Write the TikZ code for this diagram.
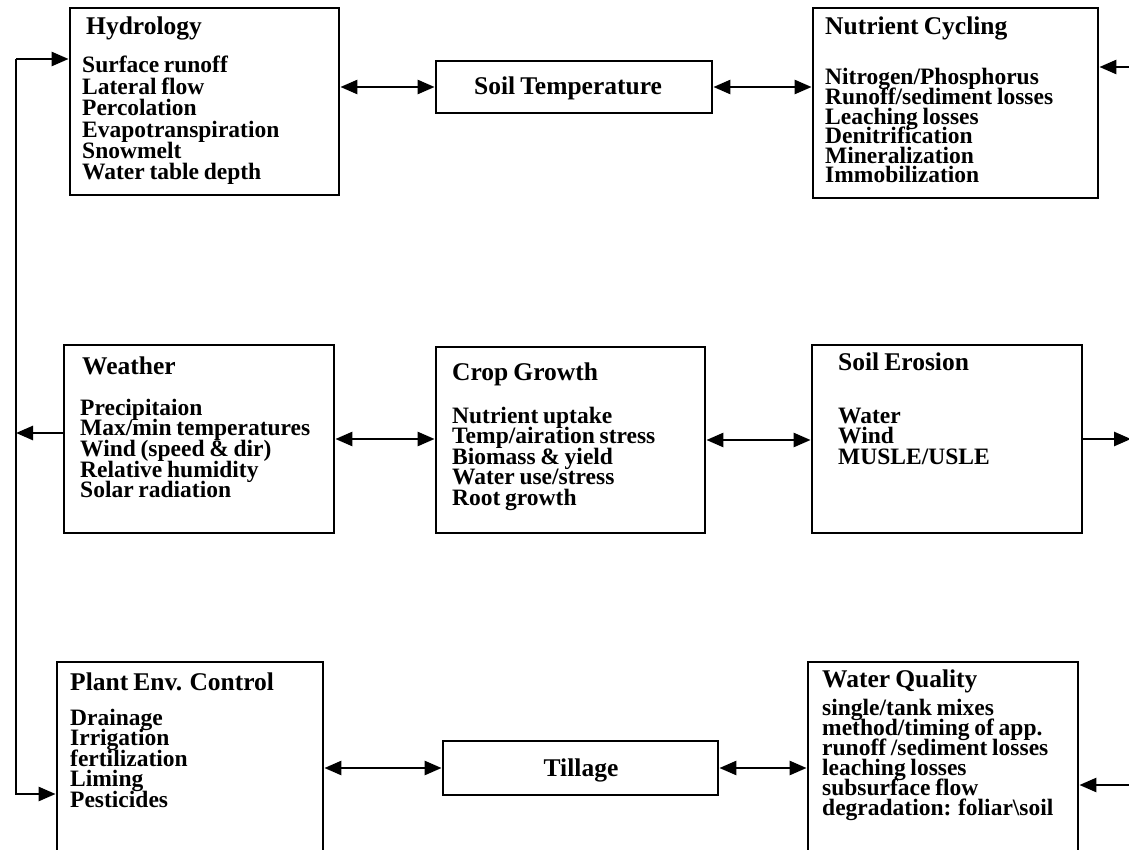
\documentclass[tikz,border=0pt]{standalone}
\usepackage{fontspec}
\setmainfont{Liberation Serif}[WordSpace=0.8]
\usetikzlibrary{arrows.meta}
\newcommand\ttlfont{\fontsize{25.5}{28}\selectfont\bfseries}
\newcommand\itmfont[1]{\fontsize{23.5}{#1}\selectfont\bfseries\lineskiplimit=-100pt\relax\lineskip=0pt\relax}
\tikzset{
  box/.style={draw, line width=2.8pt, inner sep=0pt, rectangle},
  ttl/.style={anchor=base west, inner sep=0pt, font=\ttlfont},
  itm/.style={anchor=base west, inner sep=0pt, text width=270pt, align=flush left, font=\itmfont{#1}},
  conn/.style={line width=2.6pt, line join=miter},
  one/.style={conn, -{Triangle[length=17pt,width=14pt]}},
  two/.style={conn, {Triangle[length=17pt,width=14pt]}-{Triangle[length=17pt,width=14pt]}}
}
\begin{document}
\begin{tikzpicture}[x=1pt,y=-1pt]
\useasboundingbox (0,0) rectangle (1129,850);
\clip (0,0) rectangle (1129,850);
\fill[white] (0,0) rectangle (1129,850);

% boxes
\node[box, minimum width=269pt, minimum height=187pt] (hyd) at (204.5,101.5) {};
\node[box, minimum width=276pt, minimum height=52pt] (temp) at (574,87) {};
\node[box, minimum width=285pt, minimum height=190pt] (nut) at (955.5,103) {};
\node[box, minimum width=270pt, minimum height=188pt] (wea) at (199,439) {};
\node[box, minimum width=269pt, minimum height=186pt] (crop) at (570.5,440) {};
\node[box, minimum width=270pt, minimum height=188pt] (ero) at (947,439) {};
\node[box, minimum width=266pt, minimum height=238pt] (pec) at (190,781) {};
\node[box, minimum width=275pt, minimum height=54pt] (till) at (580.5,768) {};
\node[box, minimum width=270pt, minimum height=238pt] (wq) at (943,781) {};

% texts
\node[ttl] (hydT) at (86,35) {Hydrology};
\node[itm=21.4pt] (hydI) at (82,73) {Surface runoff\\Lateral flow\\Percolation\\Evapotranspiration\\Snowmelt\\Water table depth};
\node[ttl, anchor=base] (tempT) at (568,95) {Soil Temperature};
\node[ttl] (nutT) at (825,35) {Nutrient Cycling};
\node[itm=19.6pt] (nutI) at (825,85) {Nitrogen/Phosphorus\\Runoff/sediment losses\\Leaching losses\\Denitrification\\Mineralization\\Immobilization};
\node[ttl] (weaT) at (82,374) {Weather};
\node[itm=20.7pt] (weaI) at (80,415) {Precipitaion\\Max/min temperatures\\Wind (speed \& dir)\\Relative humidity\\Solar radiation};
\node[ttl] (cropT) at (452,380) {Crop Growth};
\node[itm=20.5pt] (cropI) at (452,423) {Nutrient uptake\\Temp/airation stress\\Biomass \& yield\\Water use/stress\\Root growth};
\node[ttl] (eroT) at (838,370) {Soil Erosion};
\node[itm=20.5pt] (eroI) at (838,423) {Water\\Wind\\MUSLE/USLE};
\node[ttl] (pecT) at (70,690) {Plant Env. Control};
\node[itm=20.5pt] (pecI) at (70,725) {Drainage\\Irrigation\\fertilization\\Liming\\Pesticides};
\node[ttl, anchor=base] (tillT) at (581,776) {Tillage};
\node[ttl] (wqT) at (822,687) {Water Quality};
\node[itm=20pt] (wqI) at (822,715) {single/tank mixes\\method/timing of app.\\runoff /sediment losses\\leaching losses\\subsurface flow\\degradation: foliar\textbackslash soil};

% free ends
\coordinate (L1) at (16,59);
\coordinate (L2) at (16,794);
\coordinate (WL) at (16,433);
\coordinate (WR) at (64,433);
\coordinate (NR) at (1132,67);
\coordinate (ER) at (1131,439);
\coordinate (QR) at (1132,785);

% connectors
\draw[two] (temp.west -| hyd.east) -- (temp.west);
\draw[two] (temp.east) -- (temp.east -| nut.west);
\draw[one] (NR) -- (NR -| nut.east);
\draw[two] (wea.east) -- (wea.east -| crop.west);
\draw[two] (crop.east) -- (crop.east -| ero.west);
\draw[one] (ero.east) -- (ER);
\draw[two] (till.west -| pec.east) -- (till.west);
\draw[two] (till.east) -- (till.east -| wq.west);
\draw[one] (QR) -- (QR -| wq.east);
\draw[one] (L1) -- (L1 -| hyd.west);
\draw[one] (L1) -- (L2) -- (L2 -| pec.west);
\draw[one] (WR) -- (WL);
\end{tikzpicture}
\end{document}
